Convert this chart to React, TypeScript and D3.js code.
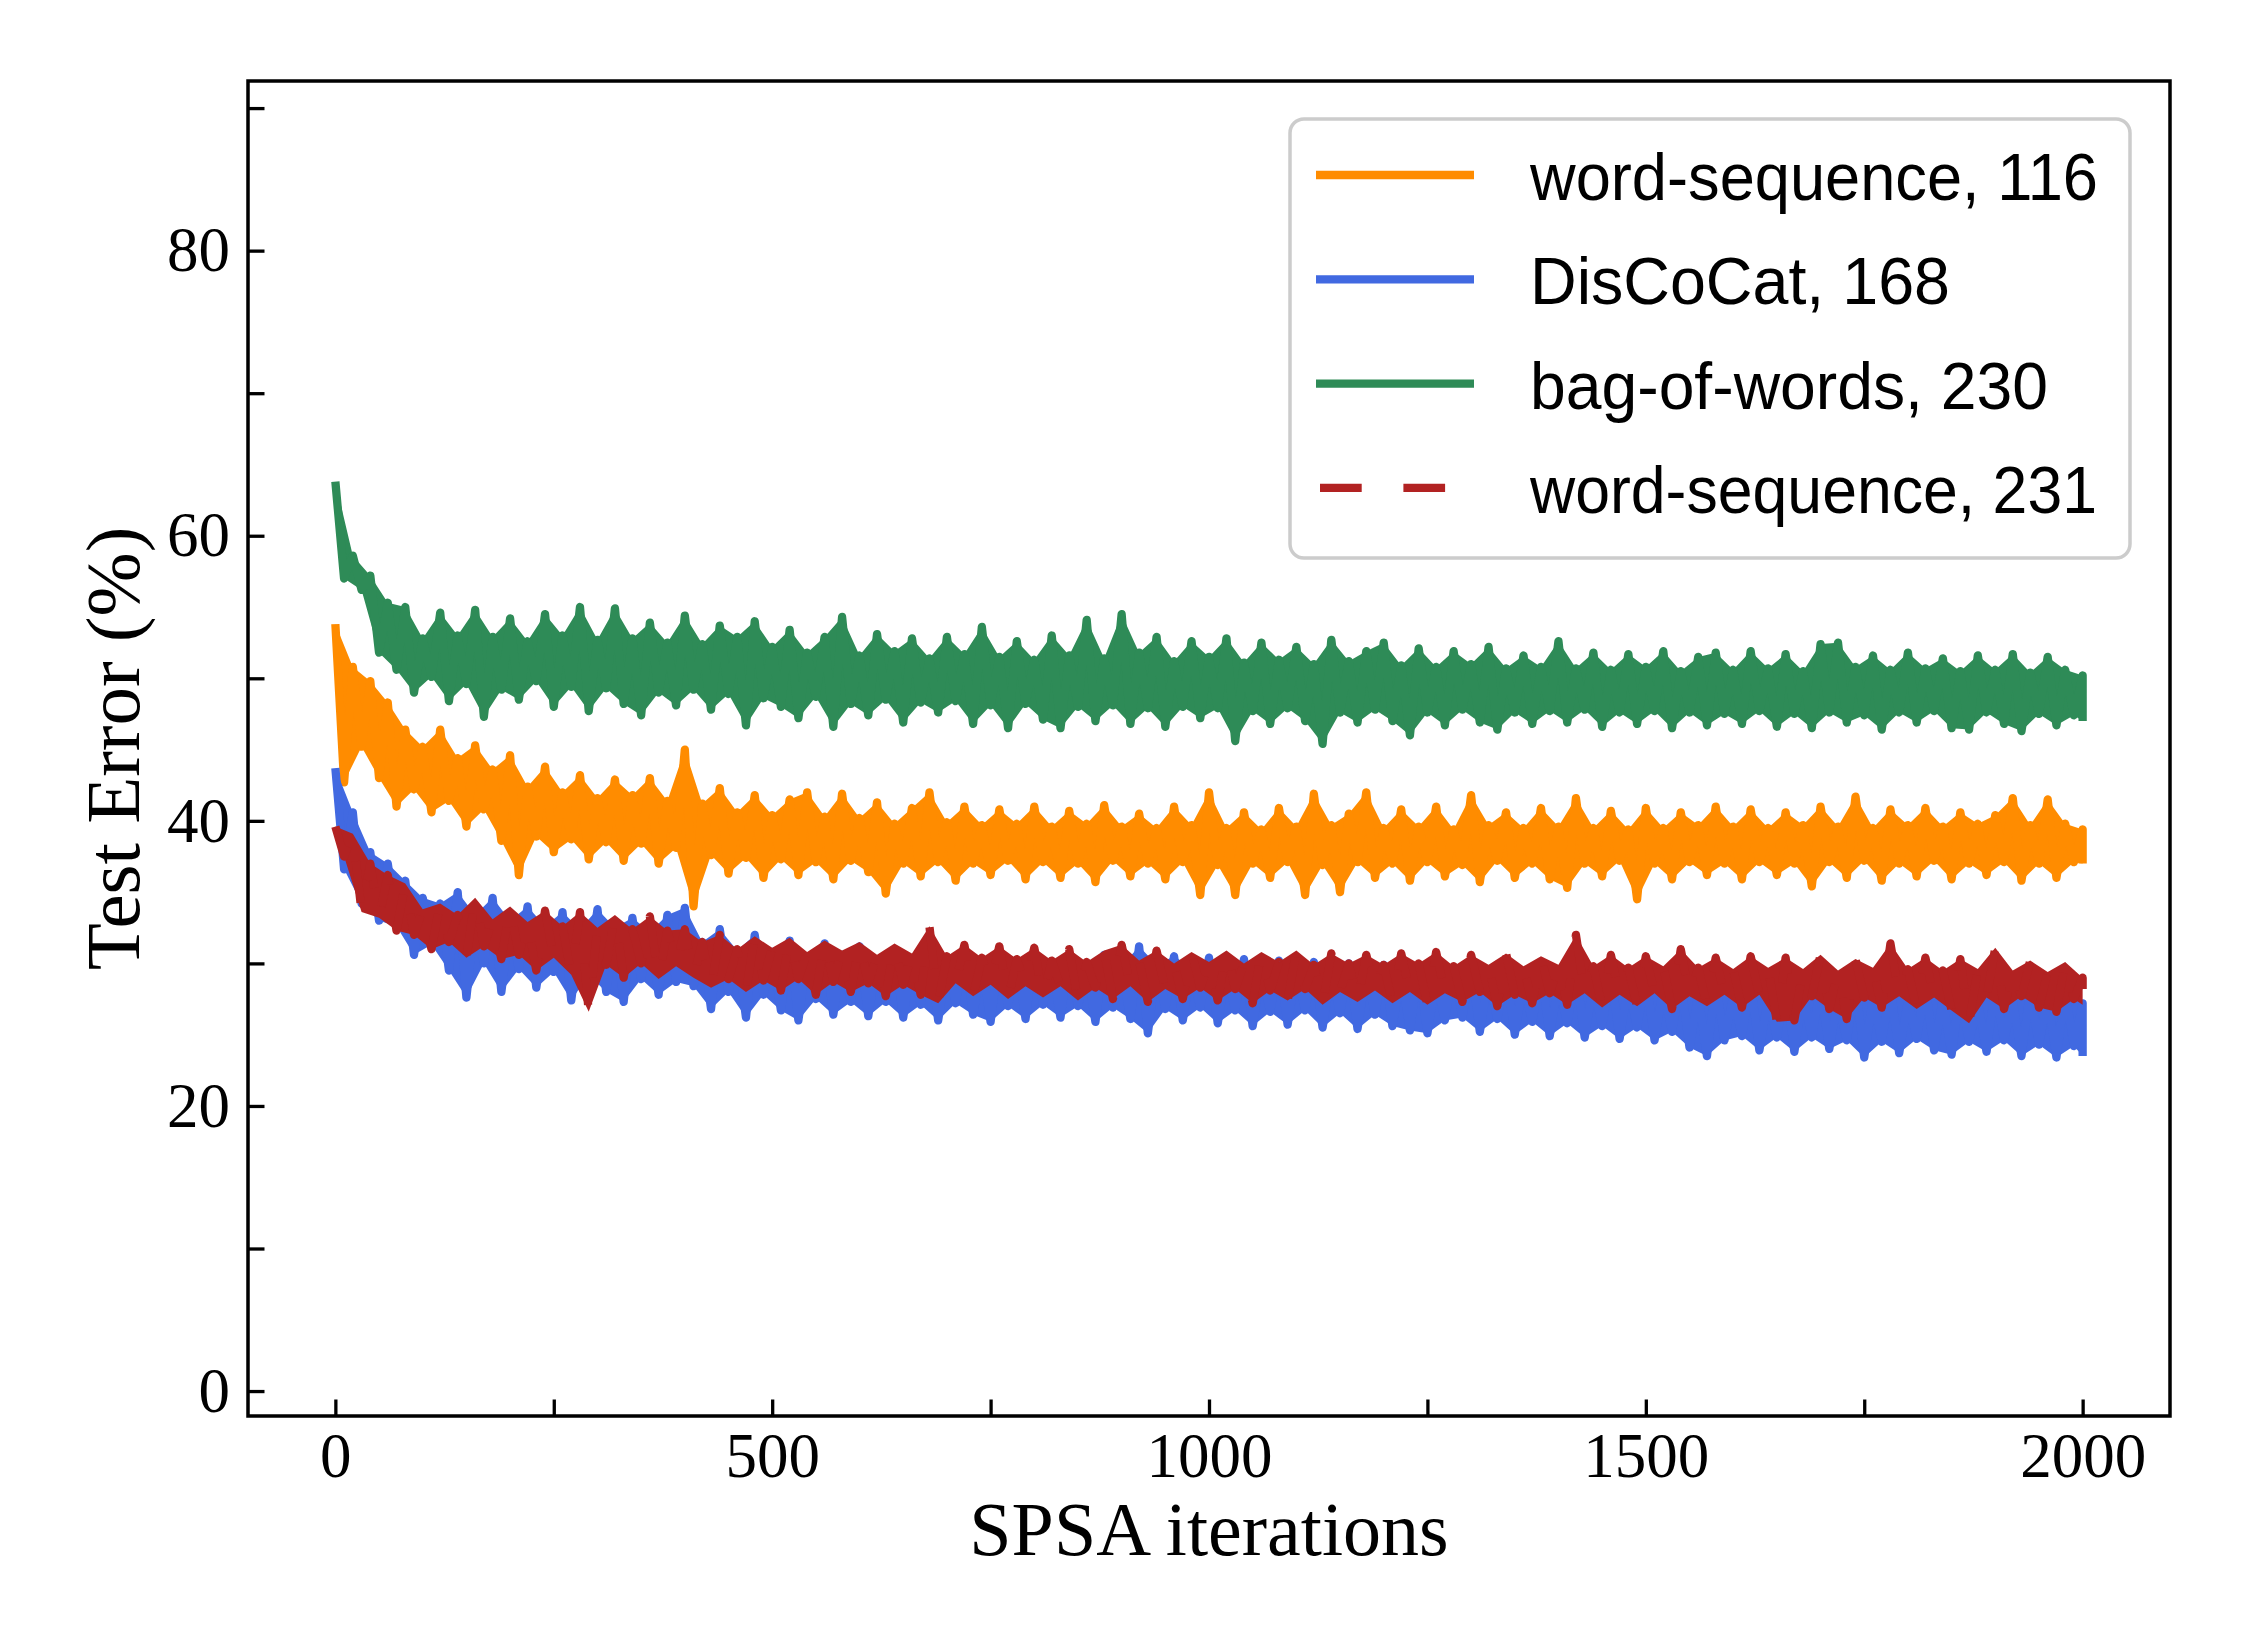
import { useEffect, useRef } from "react";
import * as d3 from "d3";

// each curve is read off the picture as the top and bottom of the line
// inside windows of 20 SPSA iterations (the lines are too dense to read point by point)
const windowStarts = d3.range(0, 2001, 20);

const xTicks = [0, 500, 1000, 1500, 2000];
const xMinorTicks = [250, 750, 1250, 1750];
const yTicks = [0, 20, 40, 60, 80];
const yMinorTicks = [10, 30, 50, 70, 90];

const seriesNames = ["word-sequence, 116", "DisCoCat, 168", "bag-of-words, 230", "word-sequence, 231"];
const seriesColors = ["#ff8c00", "#4169e1", "#2e8b57", "#b22222"];

// word-sequence, 116 (orange)
const wordSeq116High = [
  53.8, 50.8, 49.8, 48.3, 46.4, 45.2, 46.4, 44.4, 45.3, 43.6,
  44.6, 42.4, 43.8, 42.0, 43.2, 41.6, 42.9, 41.8, 43.0, 41.4,
  45.0, 41.2, 42.3, 40.6, 41.8, 40.4, 41.5, 42.0, 40.3, 41.9,
  40.2, 41.3, 39.8, 40.9, 42.0, 39.9, 41.0, 39.7, 40.8, 39.8,
  41.0, 39.6, 40.7, 39.8, 41.1, 39.6, 40.5, 39.5, 41.0, 39.7,
  42.0, 39.5, 40.6, 39.4, 40.9, 39.6, 41.9, 39.7, 40.5, 42.0,
  39.5, 40.8, 39.6, 41.0, 39.4, 41.8, 39.7, 40.6, 39.5, 40.9,
  39.6, 41.6, 39.5, 40.7, 39.4, 40.9, 39.5, 40.6, 39.7, 41.0,
  39.6, 40.8, 39.5, 40.6, 39.7, 41.0, 39.6, 41.7, 39.5, 40.8,
  39.7, 40.9, 39.6, 40.6, 39.8, 40.4, 41.6, 39.7, 41.5, 39.8,
  39.4,
];
const wordSeq116Low = [
  42.7, 45.2, 43.0, 41.0, 42.2, 40.6, 41.4, 39.6, 40.8, 38.6,
  36.2, 38.9, 37.8, 38.7, 37.3, 38.5, 37.2, 38.4, 37.0, 38.1,
  34.0, 37.6, 36.3, 37.4, 36.0, 37.3, 36.2, 37.1, 35.9, 37.2,
  36.4, 34.9, 37.0, 36.1, 37.1, 35.8, 37.0, 36.2, 37.2, 35.9,
  37.1, 36.0, 37.0, 35.7, 37.2, 36.1, 37.0, 35.9, 37.1, 34.8,
  36.9, 34.8, 37.0, 36.0, 37.1, 34.8, 36.9, 35.0, 37.1, 36.0,
  37.0, 35.8, 37.1, 36.1, 36.9, 35.7, 37.2, 36.0, 37.0, 35.9,
  35.3, 37.0, 36.1, 37.2, 34.5, 37.0, 35.9, 37.1, 36.2, 37.0,
  35.9, 37.1, 36.2, 37.0, 35.4, 37.1, 36.0, 37.2, 35.8, 37.0,
  36.1, 37.2, 35.9, 37.0, 36.2, 37.1, 35.8, 37.0, 36.0, 37.1,
  37.0,
];

// DisCoCat, 168 (blue)
const disCoCat168High = [
  43.7, 40.6, 37.8, 37.0, 35.8, 34.6, 34.2, 35.0, 33.4, 34.6,
  33.0, 34.0, 32.6, 33.6, 32.4, 33.8, 32.5, 33.2, 32.2, 33.4,
  33.9, 31.5, 32.4, 30.9, 32.0, 30.8, 31.6, 30.5, 31.4, 30.6,
  31.2, 30.3, 31.0, 30.2, 30.9, 30.1, 31.1, 30.0, 30.8, 30.2,
  30.9, 29.9, 30.7, 29.8, 30.6, 29.8, 31.2, 29.9, 30.5, 29.7,
  30.4, 29.5, 30.3, 29.4, 30.2, 29.6, 30.1, 29.3, 30.0, 29.4,
  29.9, 29.2, 29.8, 28.9, 29.7, 30.0, 29.0, 29.6, 28.8, 29.5,
  28.7, 29.4, 28.6, 29.3, 28.5, 29.1, 28.3, 28.8, 27.8, 28.7,
  27.7, 28.6, 27.6, 28.5, 27.8, 28.4, 27.5, 28.6, 27.6, 28.3,
  27.4, 28.4, 27.5, 28.2, 27.3, 28.3, 27.4, 28.1, 27.6, 28.0,
  27.2,
];
const disCoCat168Low = [
  36.6, 34.2, 33.0, 32.6, 30.6, 31.3, 29.5, 27.6, 30.0, 28.0,
  29.6, 28.3, 29.4, 27.4, 29.2, 28.0, 27.3, 28.9, 27.8, 28.7,
  28.4, 26.8, 28.0, 26.2, 27.8, 26.7, 26.0, 27.5, 26.4, 27.3,
  26.3, 27.3, 26.2, 27.1, 26.0, 27.2, 26.4, 25.9, 27.0, 26.1,
  27.1, 26.2, 27.0, 25.9, 26.9, 26.1, 25.1, 26.8, 26.0, 26.9,
  25.8, 26.7, 25.6, 26.6, 25.7, 26.7, 25.5, 26.5, 25.4, 26.4,
  25.6, 25.3, 25.1, 26.0, 26.2, 25.2, 26.1, 25.0, 25.9, 24.9,
  25.8, 24.8, 25.6, 24.7, 25.5, 24.6, 25.2, 24.1, 23.5, 24.6,
  24.9, 23.9, 24.8, 23.8, 24.8, 24.0, 24.6, 23.4, 24.5, 23.7,
  24.7, 23.9, 23.6, 24.5, 23.8, 24.6, 23.5, 24.3, 23.4, 24.2,
  23.5,
];

// bag-of-words, 230 (green)
const bagOfWords230High = [
  63.8, 58.6, 57.2, 55.3, 55.0, 52.8, 54.6, 53.0, 54.8, 52.9,
  54.2, 52.6, 54.5, 53.0, 55.0, 52.7, 54.9, 52.8, 53.9, 52.5,
  54.4, 52.4, 53.7, 52.9, 54.0, 52.2, 53.4, 51.8, 52.9, 54.3,
  51.6, 53.1, 51.9, 52.8, 51.4, 52.9, 51.7, 53.6, 51.5, 52.6,
  51.3, 53.0, 51.6, 54.1, 51.4, 54.5, 51.8, 52.9, 51.2, 52.6,
  51.5, 52.8, 51.1, 52.5, 51.3, 52.2, 51.0, 52.7, 51.2, 51.9,
  52.5, 50.9, 52.1, 50.8, 51.9, 51.0, 52.2, 50.7, 51.6, 50.8,
  52.6, 50.7, 51.8, 50.6, 51.7, 50.8, 51.9, 50.5, 51.5, 51.8,
  50.6, 51.9, 50.7, 51.7, 50.5, 52.4, 52.5, 50.8, 51.6, 50.6,
  51.8, 50.7, 51.4, 50.5, 51.6, 50.6, 51.7, 50.4, 51.5, 50.6,
  50.2,
];
const bagOfWords230Low = [
  57.0, 56.2, 51.8, 50.6, 49.0, 50.1, 48.4, 49.6, 47.3, 49.2,
  48.5, 49.8, 48.0, 49.4, 47.7, 49.3, 48.2, 47.4, 49.0, 48.1,
  49.2, 47.8, 48.9, 46.7, 48.6, 48.0, 47.2, 48.7, 46.6, 48.2,
  47.4, 48.5, 46.9, 48.3, 47.6, 48.4, 46.8, 48.1, 46.5, 48.2,
  47.1, 46.5, 48.0, 47.0, 48.1, 46.8, 47.9, 46.6, 48.0, 47.2,
  47.9, 45.6, 47.7, 46.8, 47.9, 47.0, 45.4, 47.6, 46.9, 47.8,
  47.0, 46.0, 47.6, 46.7, 47.8, 46.9, 46.4, 47.6, 46.8, 47.7,
  46.9, 47.8, 46.6, 47.6, 46.8, 47.7, 46.5, 47.6, 46.7, 47.5,
  46.8, 47.7, 46.6, 47.5, 46.5, 47.6, 46.9, 47.4, 46.4, 47.6,
  46.9, 47.7, 46.5, 46.4, 47.6, 46.8, 46.3, 47.5, 46.7, 47.4,
  47.0,
];

// word-sequence, 231 (red, dashed)
const wordSeq231High = [
  39.6, 39.1, 37.0, 36.2, 35.6, 33.8, 34.2, 33.4, 34.6, 33.1,
  34.0, 32.9, 33.7, 32.6, 33.6, 32.5, 33.4, 32.4, 33.3, 32.3,
  32.4, 31.5, 32.0, 31.0, 31.9, 31.1, 31.8, 30.8, 31.6, 30.9,
  31.5, 30.6, 31.4, 30.7, 32.6, 30.5, 31.3, 30.4, 31.2, 30.3,
  31.1, 30.2, 31.0, 30.1, 30.9, 31.3, 30.2, 30.9, 30.0, 30.8,
  30.1, 30.9, 30.0, 30.8, 30.1, 30.9, 29.9, 30.7, 30.0, 30.6,
  29.9, 30.7, 30.0, 30.8, 29.8, 30.6, 29.9, 30.7, 29.8, 30.5,
  29.9, 32.0, 29.8, 30.6, 29.7, 30.5, 29.8, 31.0, 29.7, 30.4,
  29.6, 30.5, 29.7, 30.4, 29.6, 30.6, 29.5, 30.3, 29.7, 31.4,
  29.6, 30.4, 29.5, 30.3, 29.6, 31.1, 29.5, 30.2, 29.4, 30.1,
  29.0,
];
const wordSeq231Low = [
  37.5, 33.6, 33.2, 32.3, 32.0, 31.0, 31.5, 30.4, 31.2, 30.3,
  30.6, 29.5, 30.4, 29.2, 26.6, 29.9, 29.0, 30.0, 28.9, 29.8,
  29.0, 28.3, 28.9, 28.0, 28.8, 28.1, 28.9, 27.8, 28.7, 28.0,
  28.6, 27.7, 28.5, 27.8, 27.2, 28.6, 27.7, 28.5, 27.5, 28.4,
  27.6, 28.4, 27.4, 28.3, 27.5, 28.4, 27.3, 28.2, 27.5, 28.3,
  27.4, 28.2, 27.2, 28.1, 27.4, 28.2, 27.1, 28.0, 27.3, 28.1,
  27.2, 28.0, 27.1, 27.9, 27.3, 28.0, 27.0, 27.8, 27.2, 27.9,
  27.1, 27.9, 26.9, 27.8, 27.0, 27.9, 26.8, 27.7, 27.0, 27.8,
  26.9, 27.8, 25.9, 26.0, 27.7, 26.8, 26.1, 27.6, 26.9, 27.7,
  26.8, 27.6, 26.7, 25.8, 27.6, 26.8, 27.7, 26.9, 26.6, 27.5,
  27.1,
];

const seriesHigh = [wordSeq116High, disCoCat168High, bagOfWords230High, wordSeq231High];
const seriesLow = [wordSeq116Low, disCoCat168Low, bagOfWords230Low, wordSeq231Low];

const WIDTH = 2250;
const HEIGHT = 1650;
const LEFT = 248, RIGHT = 2170, TOP = 81, BOTTOM = 1416;
const SERIF = "'Liberation Serif', 'DejaVu Serif', serif";
const SANS = "'Liberation Sans', 'DejaVu Sans', sans-serif";
const legendTextWidths = [568, 420, 518, 567];

const App = () => {
  const svgRef: any = useRef<SVGSVGElement>(null);

  useEffect(() => {
    document.body.style.margin = "0";

    const svg = d3.select(svgRef.current);
    svg.selectAll("*").remove();

    const x = d3.scaleLinear().domain([-100, 2100]).range([LEFT, RIGHT]);
    const y = d3.scaleLinear().domain([-1.75, 91.9]).range([BOTTOM, TOP]);

    svg.append("rect").attr("width", WIDTH).attr("height", HEIGHT).attr("fill", "white");

    svg.append("defs").append("clipPath").attr("id", "plotClip")
      .append("rect")
      .attr("x", LEFT).attr("y", TOP)
      .attr("width", RIGHT - LEFT).attr("height", BOTTOM - TOP);

    const highPts = (s: number) => windowStarts.map((it, k) => [it, seriesHigh[s][k]]);
    const lowPts = (s: number) => windowStarts.map((it, k) => [Math.min(it + 10, 2000), seriesLow[s][k]]);

    // zigzag: top of each window at its start, bottom half a window later
    const zigzag = (s: number) => {
      const hi = highPts(s), lo = lowPts(s);
      return hi.flatMap((p, k) => [p, lo[k]]);
    };
    // the dense part of the line between the two readings
    const band = (s: number) => highPts(s).concat(lowPts(s).reverse());

    const line: any = d3.line<number[]>()
      .x((d) => x(d[0]))
      .y((d) => y(d[1]));

    const plot = svg.append("g").attr("clip-path", "url(#plotClip)");

    const series = plot.selectAll("g")
      .data(seriesNames)
      .join("g");

    series.append("path")
      .attr("d", (d, i) => line(band(i)) + "Z")
      .attr("fill", (d, i) => seriesColors[i])
      .attr("stroke", "none");

    series.append("path")
      .attr("d", (d, i) => line(zigzag(i)))
      .attr("fill", "none")
      .attr("stroke", (d, i) => seriesColors[i])
      .attr("stroke-width", 8.3)
      .attr("stroke-linejoin", "round")
      .attr("stroke-dasharray", (d, i) => (i === 3 ? "41.7 41.7" : null));

    // axes with inward ticks
    const styleAxis = (g: any) => {
      g.select(".domain").remove();
      g.selectAll("line").attr("stroke", "black").attr("stroke-width", 3.3);
      g.selectAll("text")
        .attr("font-family", SERIF)
        .attr("font-size", 63)
        .attr("fill", "black");
    };

    svg.append("g")
      .attr("transform", `translate(0,${BOTTOM})`)
      .call(d3.axisBottom(x).tickValues(xTicks).tickFormat(d3.format("d")).tickSize(-16.5).tickPadding(16))
      .call(styleAxis);
    svg.append("g")
      .attr("transform", `translate(0,${BOTTOM})`)
      .call(d3.axisBottom(x).tickValues(xMinorTicks).tickFormat(() => "").tickSize(-16.5))
      .call(styleAxis);

    svg.append("g")
      .attr("transform", `translate(${LEFT},0)`)
      .call(d3.axisLeft(y).tickValues(yTicks).tickFormat(d3.format("d")).tickSize(-16.5).tickPadding(18))
      .call(styleAxis);
    svg.append("g")
      .attr("transform", `translate(${LEFT},0)`)
      .call(d3.axisLeft(y).tickValues(yMinorTicks).tickFormat(() => "").tickSize(-16.5))
      .call(styleAxis);

    // frame
    svg.append("rect")
      .attr("x", LEFT).attr("y", TOP)
      .attr("width", RIGHT - LEFT).attr("height", BOTTOM - TOP)
      .attr("fill", "none").attr("stroke", "black").attr("stroke-width", 3.5);

    // axis titles
    svg.append("text")
      .attr("x", (LEFT + RIGHT) / 2).attr("y", 1555)
      .attr("text-anchor", "middle")
      .attr("font-family", SERIF).attr("font-size", 76)
      .text("SPSA iterations");

    svg.append("text")
      .attr("transform", `translate(139,${(TOP + BOTTOM) / 2}) rotate(-90)`)
      .attr("text-anchor", "middle")
      .attr("font-family", SERIF).attr("font-size", 77)
      .text("Test Error (%)");

    // legend
    const legend = svg.append("g");
    legend.append("rect")
      .attr("x", 1290).attr("y", 119)
      .attr("width", 840).attr("height", 439)
      .attr("rx", 14)
      .attr("fill", "white").attr("fill-opacity", 0.8)
      .attr("stroke", "#cccccc").attr("stroke-width", 3.5);

    const rows = legend.selectAll("g.row")
      .data(seriesNames)
      .join("g")
      .attr("transform", (d, i) => `translate(0,${175 + i * 104.3})`);

    rows.append("line")
      .attr("x1", 1316).attr("x2", 1474)
      .attr("stroke", (d, i) => seriesColors[i])
      .attr("stroke-width", 8.3)
      .attr("stroke-dasharray", (d, i) => (i === 3 ? "41.7 41.7" : null))
      .attr("stroke-dashoffset", (d, i) => (i === 3 ? -4 : null));

    rows.append("text")
      .attr("x", 1530).attr("y", 25)
      .attr("font-family", SANS).attr("font-size", 67)
      .attr("textLength", (d, i) => legendTextWidths[i])
      .attr("lengthAdjust", "spacingAndGlyphs")
      .text((d) => d);
  }, []);

  return (
    <svg ref={svgRef} width={WIDTH} height={HEIGHT} style={{ display: "block" }} />
  );
};

export default App;
